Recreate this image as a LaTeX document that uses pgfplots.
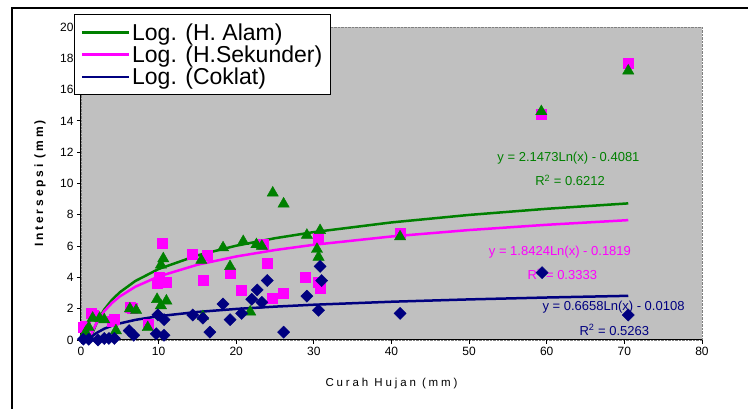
\documentclass[border=0pt]{standalone}
\usepackage{fontspec}
\setmainfont{Liberation Sans}
\usepackage{pgfplots}
\pgfplotsset{compat=1.18}

\definecolor{exgreen}{RGB}{0,128,0}
\definecolor{exmag}{RGB}{255,0,255}
\definecolor{exnavy}{RGB}{0,0,128}
\definecolor{plotbg}{RGB}{192,192,192}

\begin{document}
\begin{tikzpicture}
\useasboundingbox (0pt,0pt) rectangle (748pt,409pt);
% outer chart frame (only left and top visible)
\draw[line width=2pt] (12pt,-10pt) -- (12pt,401pt) -- (760pt,401pt);

\begin{axis}[
    at={(81pt,69pt)}, anchor=origin,
    scale only axis, width=621pt, height=313pt,
    xmin=0, xmax=80, ymin=0, ymax=20,
    xtick={0,10,...,80}, ytick={0,2,...,20},
    axis x line=bottom, axis y line=left,
    axis line style={-, black, line width=1pt},
    tick align=outside, major tick length=4pt,
    tick style={black, line width=0.8pt},
    axis background/.style={fill=plotbg, draw=gray, densely dotted},
    ticklabel style={font=\fontsize{12}{12}\selectfont},
    /pgf/number format/assume math mode=true,
    xlabel={\addfontfeature{LetterSpace=25}Curah Hujan (mm)},
    xlabel style={at={(axis description cs:0.5,-0.14)}, anchor=center,
        font=\fontsize{11.5}{12}\selectfont},
    ylabel={\bfseries\addfontfeature{LetterSpace=24}Intersepsi (mm)},
    ylabel style={at={(axis description cs:-0.066,0.5)}, anchor=center,
        font=\fontsize{12}{12}\selectfont},
    clip=false,
    legend style={at={(-0.011,1.042)}, anchor=north west, draw=black,
        line width=1pt, fill=white, font=\fontsize{23}{24}\selectfont,
        inner xsep=6pt, inner ysep=7pt, row sep=0pt, cells={anchor=west}},
    legend image code/.code={\draw[#1] (13pt,0pt) -- (60pt,0pt);},
]
% H.Sekunder
\addplot[only marks, mark=square*, mark size=5pt, exmag, forget plot] coordinates {
(0.3,0.8) (0.6,0.9) (1.3,1.7) (1.6,1.6) (4.0,1.2) (4.3,1.3) (6.3,2.1) (6.6,2.0)
(8.6,1.0) (9.8,3.6) (10.1,4.0) (11.0,3.7) (10.4,6.2) (14.3,5.5) (15.7,3.8)
(16.2,5.4) (19.2,4.3) (20.7,3.2) (23.5,6.1) (24.0,4.9) (24.6,2.7) (26.0,3.0)
(28.9,4.0) (30.6,6.5) (30.6,3.7) (30.8,3.3) (41.1,6.8) (59.3,14.4) (70.5,17.7)};
% H. Alam
\addplot[only marks, mark=triangle*, mark size=6.5pt, exgreen, forget plot] coordinates {
(0.6,0.5) (1.0,0.8) (1.5,1.4) (2.4,1.4) (3.0,1.3) (4.5,0.6) (6.3,2.0) (7.1,1.9)
(8.6,0.8) (9.8,2.6) (10.3,2.2) (11.0,2.5) (10.3,4.8) (10.6,5.2) (15.5,5.1)
(15.7,1.5) (18.3,5.9) (19.2,4.7) (20.9,6.3) (21.8,1.8) (22.6,6.1) (23.3,6.0)
(24.7,9.4) (26.1,8.7) (29.1,6.7) (30.8,7.0) (30.4,5.8) (30.6,5.3) (41.1,6.6)
(59.3,14.6) (70.5,17.2)};
% Coklat
\addplot[only marks, mark=square*, mark size=4.3pt, mark options={rotate=45},
    exnavy, forget plot] coordinates {
(0.3,0.05) (1.0,0.05) (2.2,0.0) (3.0,0.1) (3.6,0.1) (4.3,0.1) (6.2,0.6) (6.8,0.3)
(9.7,0.4) (10.7,0.3) (9.9,1.6) (10.7,1.3) (14.4,1.6) (15.7,1.4) (16.6,0.5)
(18.3,2.3) (19.2,1.3) (20.7,1.7) (22.0,2.6) (23.3,2.4) (22.7,3.2) (24.0,3.8)
(26.1,0.5) (29.1,2.8) (30.6,1.9) (31.0,3.8) (30.8,4.7) (41.1,1.7) (59.4,4.3)
(70.5,1.6)};

% logarithmic trend lines (points of the fitted curves)
\addplot[exgreen, line width=2.5pt, no marks] coordinates {
(1.25,0.071) (1.5,0.463) (2,1.080) (3,1.951) (4,2.569) (5,3.048) (7,3.770)
(10,4.536) (15,5.407) (20,6.025) (25,6.504) (30,6.895) (40,7.513) (50,7.992)
(60,8.384) (70.5,8.730)};
\addlegendentry{Log. (H. Alam)}
\addplot[exmag, line width=2.5pt, no marks] coordinates {
(1.1,0.0) (1.2,0.154) (1.5,0.565) (2,1.095) (3,1.842) (4,2.372) (5,2.783)
(7,3.403) (10,4.060) (15,4.808) (20,5.337) (25,5.749) (30,6.085) (40,6.615)
(50,7.026) (60,7.362) (70.5,7.659)};
\addlegendentry{Log. (H.Sekunder)}
\addplot[exnavy, line width=2.5pt, no marks] coordinates {
(1.02,0.002) (1.5,0.259) (2,0.451) (3,0.721) (4,0.912) (5,1.061) (7,1.285)
(10,1.522) (15,1.792) (20,1.984) (25,2.132) (30,2.254) (40,2.445) (50,2.594)
(60,2.715) (70.5,2.823)};
\addlegendentry{Log. (Coklat)}

\node[exgreen, font=\fontsize{13}{13}\selectfont] at (axis cs:62.8,11.6) {y = 2.1473Ln(x) - 0.4081};
\node[exgreen, font=\fontsize{13}{13}\selectfont] at (axis cs:63.0,10.2) {R\textsuperscript{2} = 0.6212};
\node[exmag, font=\fontsize{13}{13}\selectfont] at (axis cs:61.7,5.6) {y = 1.8424Ln(x) - 0.1819};
\node[exmag, font=\fontsize{13}{13}\selectfont] at (axis cs:62.0,4.2) {R\textsuperscript{2} = 0.3333};
\node[exnavy, font=\fontsize{13}{13}\selectfont] at (axis cs:68.6,2.1) {y = 0.6658Ln(x) - 0.0108};
\node[exnavy, font=\fontsize{13}{13}\selectfont] at (axis cs:68.7,0.64) {R\textsuperscript{2} = 0.5263};
\end{axis}
\end{tikzpicture}
\end{document}
